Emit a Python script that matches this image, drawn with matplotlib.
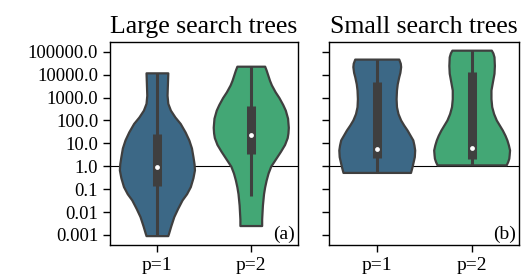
import numpy as np
import matplotlib
matplotlib.use("Agg")
import matplotlib.pyplot as plt

plt.rcParams['font.family'] = ['Liberation Serif', 'DejaVu Serif']

groups = ['p=1', 'p=2']
colors = ['#3c6886', '#43a775']
panel_titles = ['Large search trees', 'Small search trees']
panel_tags = ['(a)', '(b)']

# violin outlines: log10 value and relative half-width
large_p1_y = [4.08, 3.6, 3.1, 2.75, 2.45, 2.15, 1.87, 1.5, 1.15, 0.8, 0.42, 0.1, -0.16, -0.5, -0.89, -1.2, -1.47, -1.85, -2.2, -2.6, -2.93, -3.03]
large_p1_w = [0.29, 0.28, 0.27, 0.29, 0.36, 0.48, 0.62, 0.75, 0.85, 0.92, 0.96, 0.99, 1.0, 0.96, 0.89, 0.79, 0.67, 0.55, 0.45, 0.37, 0.31, 0.29]
large_p2_y = [4.37, 4.2, 4.0, 3.75, 3.55, 3.25, 3.0, 2.7, 2.45, 2.1, 1.7, 1.45, 1.25, 0.95, 0.65, 0.3, 0.0, -0.3, -0.6, -0.9, -1.2, -1.7, -2.3, -2.59]
large_p2_w = [0.37, 0.41, 0.45, 0.5, 0.55, 0.65, 0.75, 0.85, 0.92, 0.98, 1.0, 0.99, 0.97, 0.9, 0.79, 0.65, 0.53, 0.46, 0.41, 0.37, 0.34, 0.31, 0.29, 0.29]
small_p1_y = [4.68, 4.5, 4.35, 4.1, 3.91, 3.6, 3.33, 2.95, 2.6, 2.3, 2.02, 1.8, 1.58, 1.35, 1.15, 0.93, 0.71, 0.42, 0.2, -0.02, -0.27]
small_p1_w = [0.58, 0.62, 0.63, 0.61, 0.58, 0.54, 0.52, 0.51, 0.52, 0.56, 0.63, 0.71, 0.8, 0.88, 0.95, 0.98, 1.0, 0.99, 0.96, 0.93, 0.89]
small_p2_y = [5.07, 4.95, 4.78, 4.4, 4.06, 3.7, 3.33, 2.95, 2.6, 2.3, 2.02, 1.8, 1.58, 1.35, 1.15, 0.93, 0.71, 0.5, 0.35, 0.2, 0.06]
small_p2_w = [0.52, 0.56, 0.59, 0.6, 0.59, 0.55, 0.51, 0.51, 0.53, 0.58, 0.65, 0.73, 0.81, 0.88, 0.93, 0.97, 1.0, 0.99, 0.98, 0.95, 0.91]

# box stats (log10): whisker low, q1, median, q3, whisker high
large_box = [[-3.03, -0.85, -0.05, 1.41, 4.08], [-1.28, 0.53, 1.36, 2.63, 4.37]]
small_box = [[-0.27, 0.35, 0.75, 3.69, 4.68], [0.06, 0.32, 0.78, 4.10, 5.07]]

panels = [
    [(large_p1_y, large_p1_w), (large_p2_y, large_p2_w)],
    [(small_p1_y, small_p1_w), (small_p2_y, small_p2_w)],
]
boxes = [large_box, small_box]

fig = plt.figure(figsize=(5.27, 2.78), dpi=100)
ax1 = fig.add_axes([0.2087, 0.1187, 0.3562, 0.7313])
ax2 = fig.add_axes([0.6249, 0.1187, 0.36, 0.7313], sharey=ax1)

yticks = np.arange(-3, 6)
for i, ax in enumerate([ax1, ax2]):
    for j, (ys, ws) in enumerate(panels[i]):
        ys = np.array(ys)
        ws = np.array(ws) * 0.4
        ax.fill_betweenx(ys, j - ws, j + ws, facecolor=colors[j],
                         edgecolor='#3f3f3f', linewidth=1.6, zorder=2)
        lo, q1, med, q3, hi = boxes[i][j]
        ax.plot([j, j], [lo, hi], color='#3f3f3f', lw=2.2, zorder=3,
                solid_capstyle='butt')
        ax.plot([j, j], [q1, q3], color='#3f3f3f', lw=6.5, zorder=3,
                solid_capstyle='butt')
        ax.scatter([j], [med], s=12, color='white', zorder=4, linewidths=0)
    ax.axhline(0, color='black', lw=0.8, zorder=1)
    ax.set_xlim(-0.5, 1.5)
    ax.set_ylim(-3.44, 5.44)
    ax.set_xticks([0, 1])
    ax.set_xticklabels(groups, fontsize=14)
    ax.set_yticks(yticks)
    ax.tick_params(length=5, width=1.0)
    for s in ax.spines.values():
        s.set_linewidth(1.0)
    ax.set_title(panel_titles[i], fontsize=18.5)
    ax.text(0.985, 0.01, panel_tags[i], transform=ax.transAxes,
            ha='right', va='bottom', fontsize=14)

ax1.set_yticklabels([str(10.0 ** k) for k in yticks], fontsize=13.5)
ax2.tick_params(labelleft=False)

fig.savefig('out.png', dpi=100)
